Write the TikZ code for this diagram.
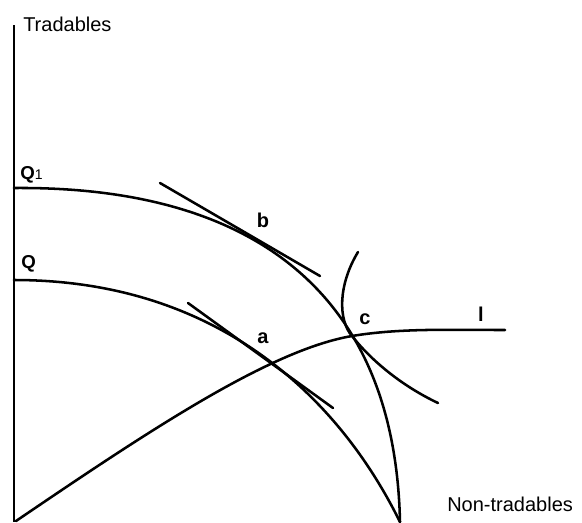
\documentclass[tikz,border=0pt]{standalone}
\usepackage{fontspec}
\setmainfont{Liberation Sans}
\begin{document}
\begin{tikzpicture}[x=0.75pt,y=-0.75pt,
  curve/.style={line width=1.9pt, line cap=round},
  axislabel/.style={font=\fontsize{15}{18}\selectfont, inner sep=0pt, anchor=base west},
  ptlabel/.style={font=\bfseries\fontsize{15}{18}\selectfont, inner sep=0pt, anchor=base},
  qlabel/.style={font=\bfseries\fontsize{14}{17}\selectfont, inner sep=0pt, anchor=base west}]
\useasboundingbox (0,0) rectangle (582,522);
% axis
\coordinate (top) at (14,25);
\coordinate (O) at (14,522);
\draw[line width=2.2pt] (top) -- (O);
% key points
\coordinate (q1s) at (14,188);
\coordinate (qs) at (14,280);
\coordinate (e) at (400,522);
\coordinate (c) at (352,336);
% production possibility curves
\draw[curve] (q1s) .. controls (250,186) and (395,290) .. (e);
\draw[curve] (qs) .. controls (220,280) and (340,400) .. (e);
% tangent lines at b and a
\coordinate (b1) at (160,183);
\coordinate (b2) at (320,276);
\draw[curve] (b1) -- (b2);
\coordinate (a1) at (188,303);
\coordinate (a2) at (333,408);
\draw[curve] (a1) -- (a2);
% indifference curve through c
\coordinate (i1) at (358,252);
\coordinate (i2) at (438,403);
\draw[curve] (i1) .. controls (338,285) and (338,320) .. (c) .. controls (370,359) and (400,385) .. (i2);
% line l
\coordinate (l0) at (16,521);
\coordinate (l1) at (505,330);
\draw[curve] (l0) .. controls (150,430) and (270,350) .. (c) .. controls (400,328) and (450,330) .. (l1);
% labels
\node[axislabel] (tr) at (23,31) {Tradables};
\node[axislabel] (nt) at (447,511) {Non-tradables};
\node[qlabel] (lq1) at (20,179) {Q{\mdseries\fontsize{10.5}{12}\selectfont 1}};
\node[qlabel] (lq) at (21,268) {Q};
\node[ptlabel] (lb) at (263,227) {b};
\node[ptlabel] (la) at (263,343) {a};
\node[ptlabel] (lc) at (365,324) {c};
\node[ptlabel] (ll) at (481,321) {l};
\end{tikzpicture}
\end{document}
